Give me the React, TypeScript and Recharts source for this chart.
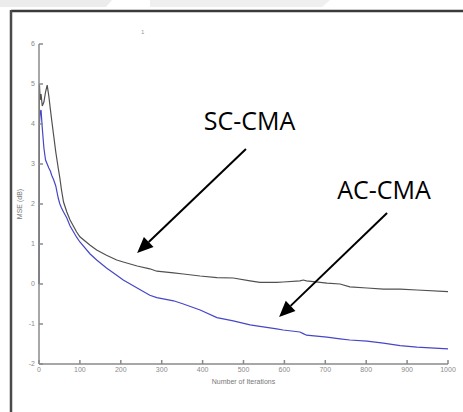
import React from 'react';
import { LineChart, Line, XAxis, YAxis, ReferenceLine, ReferenceDot } from 'recharts';

const iterations = [0, 1, 3, 5, 8, 12, 16, 20, 24, 28, 31, 36, 41, 47, 51, 55, 60, 68, 76, 92, 100, 125, 141, 165, 190, 206, 240, 271, 288, 329, 353, 394, 435, 475, 516, 540, 581, 597, 638, 646, 654, 704, 736, 760, 802, 842, 883, 924, 1000];
const scCma = [0, 5.0, 4.6, 4.75, 4.45, 4.55, 4.8, 4.97, 4.7, 4.35, 4.1, 3.7, 3.3, 2.9, 2.65, 2.35, 2.05, 1.8, 1.6, 1.3, 1.18, 0.97, 0.85, 0.72, 0.6, 0.55, 0.45, 0.38, 0.32, 0.28, 0.25, 0.2, 0.16, 0.15, 0.08, 0.04, 0.04, 0.05, 0.08, 0.1, 0.08, 0.02, 0.0, -0.07, -0.1, -0.13, -0.13, -0.15, -0.19];
const acCma = [0, 4.0, 4.3, 4.35, 3.9, 3.4, 3.1, 3.0, 2.9, 2.82, 2.72, 2.6, 2.45, 2.15, 2.0, 1.9, 1.8, 1.65, 1.45, 1.17, 1.05, 0.75, 0.6, 0.4, 0.22, 0.1, -0.1, -0.28, -0.34, -0.42, -0.5, -0.65, -0.84, -0.92, -1.02, -1.06, -1.12, -1.15, -1.2, -1.24, -1.28, -1.33, -1.37, -1.4, -1.43, -1.48, -1.54, -1.58, -1.62];
const xTicks = [0, 100, 200, 300, 400, 500, 600, 700, 800, 900, 1000];
const yTicks = [-2, -1, 0, 1, 2, 3, 4, 5, 6];

const data = iterations.map((it, i) => ({ it, sc: scCma[i], ac: acCma[i] }));

const arrowShape = (props: any) => {
  const { x1, y1, x2, y2 } = props;
  if ([x1, y1, x2, y2].some((v) => typeof v !== 'number' || isNaN(v))) return <g />;
  const dx = x2 - x1;
  const dy = y2 - y1;
  const len = Math.sqrt(dx * dx + dy * dy);
  const ux = dx / len;
  const uy = dy / len;
  const hl = 16;
  const hw = 7;
  const bx = x2 - ux * hl;
  const by = y2 - uy * hl;
  const pts = `${x2},${y2} ${bx - uy * hw},${by + ux * hw} ${bx + uy * hw},${by - ux * hw}`;
  return (
    <g>
      <line x1={x1} y1={y1} x2={bx} y2={by} stroke="#000" strokeWidth={2} />
      <polygon points={pts} fill="#000" />
    </g>
  );
};

const tickStyle = { fontSize: 7, fill: '#8a8a8a', fontFamily: 'Liberation Sans' };

export default function App() {
  return (
    <div style={{ position: 'absolute', left: 0, top: 0, width: 463, height: 412, background: '#fff', overflow: 'hidden' }}>
      <svg width={463} height={412} style={{ position: 'absolute', left: 0, top: 0 }}>
        <polygon points="0,0 112,0 106,7 0,7" fill="#ececec" />
        <polygon points="150,0 330,0 322,7 150,7" fill="#efefef" />
        <line x1={11} y1={11} x2={463} y2={11} stroke="#3a3a3a" strokeWidth={2.5} />
        <line x1={11} y1={10} x2={11} y2={412} stroke="#4a4a4a" strokeWidth={2.5} />
        <text x={141} y={34} fontSize={6} fill="#999" fontFamily="Liberation Sans">1</text>
      </svg>
      <div style={{ position: 'absolute', left: 0, top: 0 }}>
        <LineChart width={463} height={412} data={data} margin={{ top: 44, right: 15, bottom: 0, left: 0 }}>
          <XAxis
            dataKey="it"
            type="number"
            domain={[0, 1000]}
            ticks={xTicks}
            height={48}
            stroke="#8a8a8a"
            strokeWidth={1.5}
            tickSize={-4}
            tickMargin={7}
            tick={tickStyle}
            interval={0}
            label={{ value: 'Number of Iterations', position: 'insideTop', offset: 15, fontSize: 7, fill: '#777', fontFamily: 'Liberation Sans' }}
          />
          <YAxis
            type="number"
            domain={[-2, 6]}
            ticks={yTicks}
            width={39}
            stroke="#8a8a8a"
            strokeWidth={1.5}
            tickSize={-4}
            tickMargin={8}
            tick={tickStyle}
            interval={0}
            label={{ value: 'MSE (dB)', angle: -90, position: 'center', fontSize: 7, fill: '#777', fontFamily: 'Liberation Sans' }}
          />
          <Line type="linear" dataKey="ac" stroke="#4646c8" strokeWidth={1.2} dot={false} isAnimationActive={false} />
          <Line type="linear" dataKey="sc" stroke="#505050" strokeWidth={1.2} dot={false} isAnimationActive={false} />
          <ReferenceLine segment={[{ x: 506, y: 3.375 }, { x: 240, y: 0.775 }]} shape={arrowShape} ifOverflow="visible" />
          <ReferenceLine segment={[{ x: 851, y: 1.775 }, { x: 587, y: -0.825 }]} shape={arrowShape} ifOverflow="visible" />
          <ReferenceDot x={403} y={4.06} r={0} fill="none" stroke="none" ifOverflow="visible"
            label={{ value: 'SC-CMA', position: 'right', offset: 0, fontSize: 25, fill: '#000', fontFamily: 'Open Sans' }} />
          <ReferenceDot x={729} y={2.34} r={0} fill="none" stroke="none" ifOverflow="visible"
            label={{ value: 'AC-CMA', position: 'right', offset: 0, fontSize: 25, fill: '#000', fontFamily: 'Open Sans' }} />
        </LineChart>
      </div>
    </div>
  );
}
